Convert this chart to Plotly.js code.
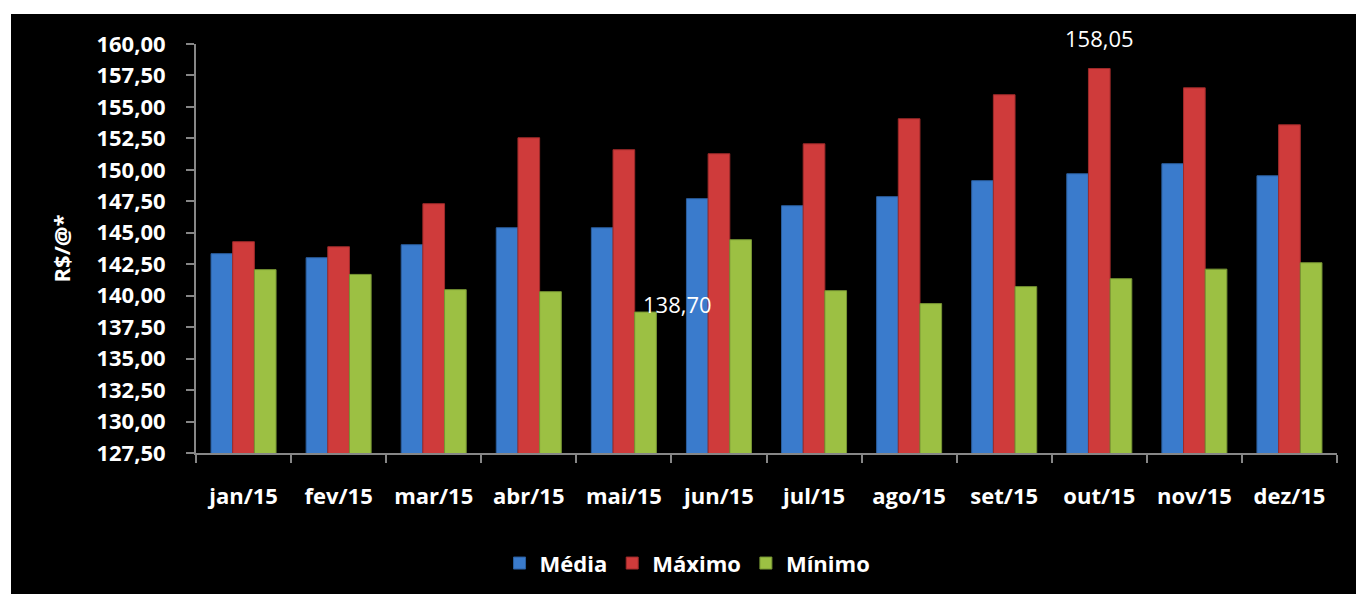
<!DOCTYPE html>
<html>
<head>
<meta charset="utf-8">
<script src="https://cdn.plot.ly/plotly-3.0.1.min.js"></script>
<style>
  html, body { margin: 0; padding: 0; background: #ffffff; }
  #chart { position: absolute; left: 11px; top: 14px; width: 1345px; height: 580px; }
</style>
</head>
<body>
<div id="chart"></div>
<script>
// Preço da arroba (R$/@) em 2015: média, máximo e mínimo mensais
const meses  = ['jan/15', 'fev/15', 'mar/15', 'abr/15', 'mai/15', 'jun/15',
                'jul/15', 'ago/15', 'set/15', 'out/15', 'nov/15', 'dez/15'];
const media  = [143.34, 143.02, 144.05, 145.40, 145.40, 147.71,
                147.15, 147.87, 149.14, 149.69, 150.49, 149.53];
const maximo = [144.29, 143.89, 147.31, 152.55, 151.60, 151.28,
                152.07, 154.06, 155.97, 158.05, 156.52, 153.58];
const minimo = [142.07, 141.69, 140.48, 140.32, 138.70, 144.45,
                140.40, 139.37, 140.72, 141.35, 142.11, 142.62];

const nomes  = ['Média', 'Máximo', 'Mínimo'];
const cores  = ['#3a7bcc', '#cf3b3b', '#9cc043'];
const bordas = ['#2a5e9e', '#9e2a2a', '#769433'];

const fonte = 'Open Sans, Lato, sans-serif';
const fmt = v => v.toFixed(2).replace('.', ',');

const traces = [media, maximo, minimo].map((serie, i) => ({
  type: 'bar',
  name: nomes[i],
  x: meses,
  y: serie,
  marker: { color: cores[i], line: { color: bordas[i], width: 1 } },
  hoverinfo: 'x+y+name'
}));

// labels on the highest maximum and the lowest minimum
const iMax = maximo.indexOf(Math.max(...maximo));
const iMin = minimo.indexOf(Math.min(...minimo));

const eixo = {
  showgrid: false,
  zeroline: false,
  showline: true,
  linecolor: '#868686',
  linewidth: 2,
  ticks: 'outside',
  ticklen: 8,
  tickwidth: 2,
  tickcolor: '#868686',
  tickfont: { family: fonte, size: 22, color: '#ffffff', weight: 'bold' }
};

const layout = {
  width: 1345,
  height: 580,
  paper_bgcolor: '#000000',
  plot_bgcolor: '#000000',
  margin: { l: 185, r: 19, t: 30, b: 141 },
  separators: ',.',
  barmode: 'group',
  bargap: 0.316,
  bargroupgap: 0,
  showlegend: true,
  font: { family: fonte, color: '#ffffff' },
  xaxis: Object.assign({}, eixo, {
    type: 'category',
    tickson: 'boundaries',
    ticklabelstandoff: 23
  }),
  yaxis: Object.assign({}, eixo, {
    range: [127.5, 160],
    dtick: 2.5,
    tick0: 127.5,
    tickformat: '.2f',
    ticklabelstandoff: 16,
    title: { text: 'R$/@*', standoff: 20,
             font: { family: fonte, size: 22, color: '#ffffff', weight: 'bold' } }
  }),
  legend: {
    orientation: 'h',
    xref: 'container',
    yref: 'container',
    x: 0.503,
    xanchor: 'center',
    y: 0.053,
    yanchor: 'middle',
    font: { family: fonte, size: 22, color: '#ffffff', weight: 'bold' },
    bgcolor: 'rgba(0,0,0,0)'
  },
  annotations: [
    {
      x: meses[iMax], y: maximo[iMax], xref: 'x', yref: 'y',
      text: fmt(maximo[iMax]), showarrow: false,
      yanchor: 'bottom', yshift: 14,
      font: { family: fonte, size: 22, color: '#ffffff' }
    },
    {
      x: meses[iMin], y: minimo[iMin], xref: 'x', yref: 'y',
      text: fmt(minimo[iMin]), showarrow: false,
      xanchor: 'left', yanchor: 'middle', xshift: 17, yshift: 8,
      font: { family: fonte, size: 22, color: '#ffffff' }
    }
  ]
};

Plotly.newPlot('chart', traces, layout, { displayModeBar: false, staticPlot: true });
</script>
</body>
</html>
